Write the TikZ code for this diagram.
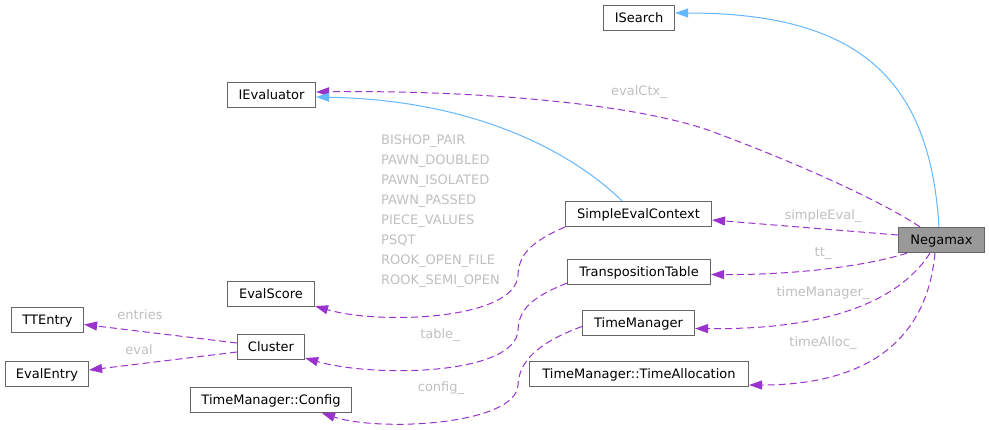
\documentclass[tikz,border=0pt]{standalone}
\usepackage{fontspec}
\setmainfont{DejaVu Sans}
\usetikzlibrary{arrows.meta}
\definecolor{usagec}{HTML}{9A32CD}
\definecolor{inhc}{HTML}{63B8FF}
\definecolor{boxc}{HTML}{666666}
\definecolor{curc}{HTML}{999999}
\definecolor{labc}{HTML}{C0C0C0}
\begin{document}
\begin{tikzpicture}[x=1pt,y=-1pt,
  txt/.style={inner sep=0pt,text height=9.5pt,text depth=0pt,font=\fontsize{13}{15}\selectfont},
  cls/.style={txt,draw=boxc,line width=1.2pt,fill=white,minimum height=25pt},
  lab/.style={txt,text=labc},
  usage/.style={draw=usagec,line width=1pt,dash pattern=on 7pt off 4pt,-{Triangle[length=13pt,width=9pt]}},
  inh/.style={draw=inhc,line width=1pt,-{Triangle[length=13pt,width=9pt]}}]
\fill[white] (0,0) rectangle (989,429);
\useasboundingbox (0,0) rectangle (989,429);
% nodes
\node[cls,minimum width=71pt] (isearch) at (639,18) {ISearch};
\node[cls,minimum width=88pt] (ieval) at (271.5,95) {IEvaluator};
\node[cls,minimum width=146pt] (sec) at (638.5,214) {SimpleEvalContext};
\node[cls,minimum width=86pt,fill=curc] (negamax) at (941.5,240) {Negamax};
\node[cls,minimum width=143pt] (tt) at (639,272) {TranspositionTable};
\node[cls,minimum width=87pt] (escore) at (271,294) {EvalScore};
\node[cls,minimum width=72pt] (ttentry) at (47.5,320) {TTEntry};
\node[cls,minimum width=67pt] (cluster) at (271,347) {Cluster};
\node[cls,minimum width=83pt] (evalentry) at (47,374) {EvalEntry};
\node[cls,minimum width=112pt] (tm) at (638.5,323) {TimeManager};
\node[cls,minimum width=219pt] (talloc) at (639,374) {TimeManager::TimeAllocation};
\node[cls,minimum width=161pt] (cfg) at (271,400) {TimeManager::Config};
% edges
\draw[inh] ([xshift=-2.5pt]negamax.north) .. controls (930,80) and (860,13) .. ([yshift=5pt]isearch.east);
\draw[usage] ([xshift=-21.5pt]negamax.north) .. controls (880,200) and (790,160) .. (708,130) .. controls (620,100) and (450,90) .. ([yshift=3pt]ieval.east);
\draw[inh] ([xshift=-16.5pt]sec.north) .. controls (575,155) and (480,100) .. ([yshift=-2pt]ieval.east);
\draw[usage] ([yshift=5pt]negamax.west) -- ([yshift=-6pt]sec.east);
\draw[usage] ([xshift=-34.5pt]negamax.south) .. controls (870,265) and (800,275) .. ([yshift=-2.5pt]tt.east);
\draw[usage] ([xshift=-11.5pt]negamax.south) .. controls (900,300) and (830,330) .. ([yshift=-5.5pt]tm.east);
\draw[usage] ([xshift=-6.5pt]negamax.south) .. controls (925,360) and (840,385) .. ([yshift=-11pt]talloc.east);
\draw[usage] (sec.south west) .. controls (530,242) and (519,255) .. (518,275) .. controls (516,320) and (380,325) .. ([yshift=1pt]escore.south east);
\draw[usage] ([yshift=2pt]tt.south west) .. controls (530,298) and (519,310) .. (518,330) .. controls (516,375) and (375,378) .. ([yshift=-11pt]cluster.east);
\draw[usage] ([yshift=-3.5pt]tm.west) .. controls (540,342) and (519,360) .. (518,385) .. controls (516,425) and (380,432) .. ([xshift=51pt]cfg.south);
\draw[usage] ([yshift=4pt]cluster.west) -- ([yshift=-4.5pt]ttentry.east);
\draw[usage] ([yshift=-5pt]cluster.west) -- ([yshift=4pt]evalentry.east);
% labels
\node[lab] (l1) at (639,91) {evalCtx\_};
\node[lab] (l2) at (823,215) {simpleEval\_};
\node[lab] (l3) at (823,252) {tt\_};
\node[lab] (l4) at (823,292) {timeManager\_};
\node[lab] (l5) at (823,342) {timeAlloc\_};
\node[lab] (l6) at (440,334) {table\_};
\node[lab] (l7) at (441,387) {config\_};
\node[lab] (l8) at (140,315) {entries};
\node[lab] (l9) at (139,350) {eval};
\node[lab,anchor=west] (m1) at (381,140) {BISHOP\_PAIR};
\node[lab,anchor=west] (m2) at (381,160) {PAWN\_DOUBLED};
\node[lab,anchor=west] (m3) at (381,180) {PAWN\_ISOLATED};
\node[lab,anchor=west] (m4) at (381,200) {PAWN\_PASSED};
\node[lab,anchor=west] (m5) at (381,220) {PIECE\_VALUES};
\node[lab,anchor=west] (m6) at (381,240) {PSQT};
\node[lab,anchor=west] (m7) at (381,260) {ROOK\_OPEN\_FILE};
\node[lab,anchor=west] (m8) at (381,280) {ROOK\_SEMI\_OPEN};
\end{tikzpicture}
\end{document}
